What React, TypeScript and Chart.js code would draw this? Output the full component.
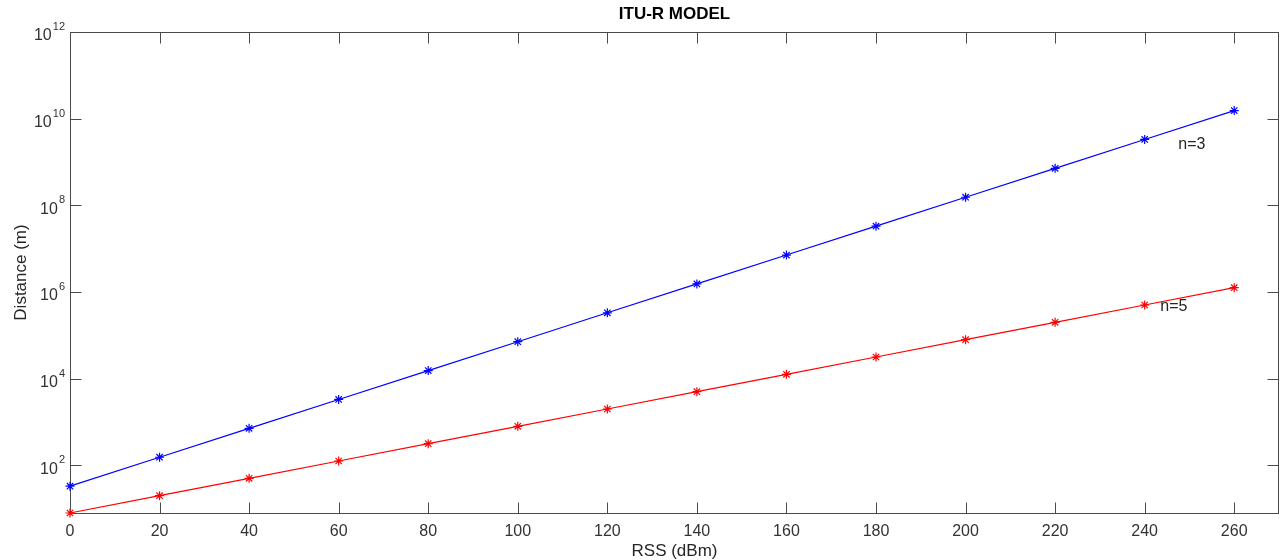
import React, { useEffect, useRef } from "react";
import { Chart, registerables } from "chart.js";

Chart.register(...registerables);

const rssValues = [0, 20, 40, 60, 80, 100, 120, 140, 160, 180, 200, 220, 240, 260];
const distanceN3 = [33.1, 153.8, 713, 3311, 15380, 71290, 331100, 1538000, 7130000, 33100000, 153800000, 713000000, 3310000000, 15380000000];
const distanceN5 = [7.94, 19.95, 50.1, 125.9, 316, 794, 1995, 5012, 12590, 31620, 79430, 199500, 501200, 1259000];
const xTicks = [0, 20, 40, 60, 80, 100, 120, 140, 160, 180, 200, 220, 240, 260];
const yTickExponents = [2, 4, 6, 8, 10, 12];
const annotationLabels = ["n=3", "n=5"];
const annotationX = [247.5, 243.5];
const annotationY = [2.5e9, 4.6e5];
const titleText = "ITU-R MODEL";
const xTitle = "RSS (dBm)";
const yTitle = "Distance (m)";

const FONT = "'Liberation Sans', Arial, Helvetica, sans-serif";
const AXIS = "#4a4a4a";

const decorPlugin = {
  id: "matlabDecor",
  beforeDatasetsDraw(chart: any) {
    const { ctx, chartArea: a, scales } = chart;
    const xs = scales.x;
    const ys = scales.y;
    ctx.save();
    ctx.strokeStyle = AXIS;
    ctx.lineWidth = 1;
    const L = Math.round(a.left) + 0.5;
    const R = Math.round(a.right) - 0.5;
    const T = Math.round(a.top) + 0.5;
    const B = Math.round(a.bottom) + 0.5;
    ctx.strokeRect(L, T, R - L, B - T);
    const tl = 11;
    ctx.beginPath();
    for (const v of xTicks) {
      const px = Math.round(xs.getPixelForValue(v)) + 0.5;
      ctx.moveTo(px, B);
      ctx.lineTo(px, B - tl);
      ctx.moveTo(px, T);
      ctx.lineTo(px, T + tl);
    }
    for (const e of yTickExponents) {
      const py = Math.round(ys.getPixelForValue(Math.pow(10, e))) + 0.5;
      ctx.moveTo(L, py);
      ctx.lineTo(L + tl, py);
      ctx.moveTo(R, py);
      ctx.lineTo(R - tl, py);
    }
    ctx.stroke();
    ctx.restore();
  },
  afterDraw(chart: any) {
    const { ctx, chartArea: a, scales } = chart;
    const xs = scales.x;
    const ys = scales.y;
    ctx.save();
    ctx.fillStyle = "#333333";
    for (const e of yTickExponents) {
      const py = ys.getPixelForValue(Math.pow(10, e));
      const exp = String(e);
      ctx.font = `11px ${FONT}`;
      const ew = ctx.measureText(exp).width;
      ctx.font = `16px ${FONT}`;
      const bw = ctx.measureText("10").width;
      const right = a.left - 5;
      ctx.textAlign = "left";
      ctx.textBaseline = "middle";
      ctx.fillText("10", right - ew - bw - 1, py + 4);
      ctx.font = `11px ${FONT}`;
      ctx.fillText(exp, right - ew, py - 5);
    }
    ctx.fillStyle = "#262626";
    ctx.font = `17px ${FONT}`;
    ctx.textAlign = "center";
    ctx.textBaseline = "middle";
    ctx.fillText(xTitle, (a.left + a.right) / 2, 551);
    ctx.save();
    ctx.translate(21, (a.top + a.bottom) / 2);
    ctx.rotate(-Math.PI / 2);
    ctx.fillText(yTitle, 0, 0);
    ctx.restore();
    ctx.fillStyle = "#000000";
    ctx.font = `bold 17px ${FONT}`;
    ctx.fillText(titleText, (a.left + a.right) / 2, 14);
    ctx.fillStyle = "#262626";
    ctx.font = `16px ${FONT}`;
    ctx.textAlign = "left";
    ctx.textBaseline = "middle";
    for (let i = 0; i < annotationLabels.length; i++) {
      ctx.fillText(annotationLabels[i], xs.getPixelForValue(annotationX[i]), ys.getPixelForValue(annotationY[i]));
    }
    ctx.restore();
  },
};

export default function App() {
  const ref = useRef<HTMLCanvasElement | null>(null);
  useEffect(() => {
    if (!ref.current) return;
    const chart = new Chart(ref.current, {
      type: "line",
      data: {
        datasets: [
          {
            label: "n=3",
            data: rssValues.map((x, i) => ({ x, y: distanceN3[i] })),
            borderColor: "#0000ff",
            backgroundColor: "#0000ff",
            borderWidth: 1.2,
            pointStyle: "star",
            pointRadius: 4.5,
            pointBorderWidth: 1.2,
            pointBorderColor: "#0000ff",
            fill: false,
            tension: 0,
            clip: false,
          } as any,
          {
            label: "n=5",
            data: rssValues.map((x, i) => ({ x, y: distanceN5[i] })),
            borderColor: "#ff0000",
            backgroundColor: "#ff0000",
            borderWidth: 1.2,
            pointStyle: "star",
            pointRadius: 4.5,
            pointBorderWidth: 1.2,
            pointBorderColor: "#ff0000",
            fill: false,
            tension: 0,
            clip: false,
          } as any,
        ],
      },
      options: {
        animation: false,
        responsive: false,
        maintainAspectRatio: false,
        layout: { autoPadding: false, padding: { top: 32, right: 3, left: 0, bottom: 0 } },
        plugins: {
          legend: { display: false },
          title: { display: false },
          tooltip: { enabled: false },
        },
        scales: {
          x: {
            type: "linear",
            min: 0,
            max: 270,
            grid: { display: false, drawTicks: false },
            border: { display: false },
            ticks: {
              color: "#333333",
              font: { size: 16, family: FONT },
              padding: 9,
              maxRotation: 0,
              autoSkip: false,
            },
            afterBuildTicks: (s: any) => {
              s.ticks = xTicks.map((v) => ({ value: v }));
            },
            afterFit: (s: any) => {
              s.height = 47;
              s.paddingLeft = 0;
              s.paddingRight = 0;
            },
          },
          y: {
            type: "logarithmic",
            min: distanceN5[0],
            max: 1e12,
            grid: { display: false, drawTicks: false },
            border: { display: false },
            ticks: { display: false },
            afterBuildTicks: (s: any) => {
              s.ticks = yTickExponents.map((e) => ({ value: Math.pow(10, e) }));
            },
            afterFit: (s: any) => {
              s.width = 70;
              s.paddingTop = 0;
              s.paddingBottom = 0;
            },
          },
        },
      } as any,
      plugins: [decorPlugin],
    });
    return () => chart.destroy();
  }, []);
  return (
    <div style={{ position: "absolute", left: 0, top: 0, width: 1282, height: 560, background: "#ffffff" }}>
      <canvas ref={ref} width={1282} height={560} style={{ width: 1282, height: 560, display: "block" }} />
    </div>
  );
}
